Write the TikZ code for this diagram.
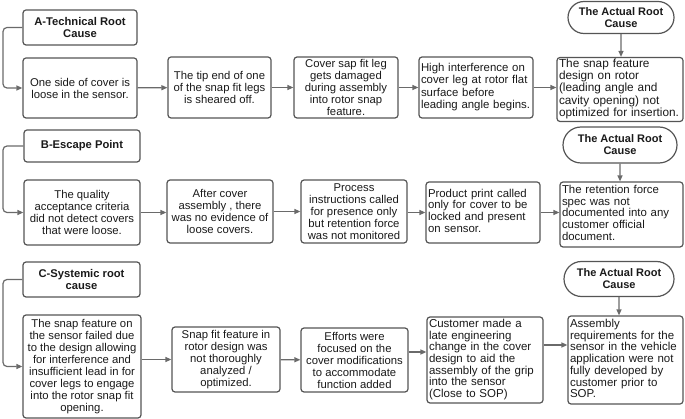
\documentclass[tikz,border=0pt]{standalone}
\usepackage{fontspec}
\setmainfont{Liberation Sans}
\usetikzlibrary{arrows.meta,shapes.misc}
\definecolor{bordc}{HTML}{555555}
\definecolor{linec}{HTML}{6A6A6A}
\definecolor{txtc}{HTML}{1A1A1A}
\newcommand\mylines[1]{\begin{tabular}{@{}l@{}}#1\end{tabular}}
\tikzset{
  box/.style={draw=bordc, line width=1.2pt, rounded corners=3pt, fill=white, inner sep=0pt,
    text=txtc, align=center, font=\fontsize{11.3}{12}\selectfont},
  lbox/.style={box, align=left, inner xsep=2pt},
  hdr/.style={box, font=\fontsize{11.2}{12.5}\selectfont\bfseries},
  stad/.style={draw=bordc, line width=1.2pt, rounded rectangle, fill=white, inner sep=0pt,
    text=txtc, align=center, font=\fontsize{11}{12}\selectfont\bfseries},
  arr/.style={draw=linec, line width=1.2pt, -{Triangle[length=6pt,width=5pt]}},
}
\begin{document}
\begin{tikzpicture}[x=1pt,y=-1pt]
\useasboundingbox (0,0) rectangle (685,419);
\coordinate (lx) at (3,0);
% ---------- Row A ----------
\node[hdr, minimum width=114pt, minimum height=35pt] (ha) at (80,27.5) {A-Technical Root\\Cause};
\node[box, minimum width=114pt, minimum height=60pt] (a1) at (80,88) {One side of cover is\\loose in the sensor.};
\node[box, minimum width=103pt, minimum height=61pt] (a2) at (219.5,87.5) {The tip end of one\\of the snap fit legs\\is sheared off.};
\node[box, minimum width=104pt, minimum height=61pt] (a3) at (346,87.5) {Cover sap fit leg\\gets damaged\\during assembly\\into rotor snap\\feature.};
\node[lbox, text width=110pt, minimum height=61pt, font=\fontsize{11.4}{12.6}\selectfont] (a4) at (476,87.5) {\mylines{High interference on\\cover leg at rotor flat\\surface before\\leading angle begins.}};
\node[lbox, text width=122pt, minimum height=64pt, font=\fontsize{11.8}{12}\selectfont] (a5) at (620,89.5) {\mylines{The snap feature\\design on rotor\\(leading angle and\\cavity opening) not\\optimized for insertion.}};
\node[stad, minimum width=106pt, minimum height=32pt] (sa) at (621,17.5) {The Actual Root\\Cause};
% ---------- Row B ----------
\node[hdr, minimum width=116pt, minimum height=32pt] (hb) at (82,146) {B-Escape Point};
\node[box, minimum width=116pt, minimum height=65pt] (b1) at (82,212.5) {The quality\\acceptance criteria\\did not detect covers\\that were loose.};
\node[box, minimum width=106pt, minimum height=63pt] (b2) at (220,211.5) {After cover\\assembly , there\\was no evidence of\\loose covers.};
\node[box, minimum width=106pt, minimum height=63pt] (b3) at (354,211.5) {Process\\instructions called\\for presence only\\but retention force\\was not monitored};
\node[lbox, text width=110pt, minimum height=61pt, font=\fontsize{11.4}{11.8}\selectfont] (b4) at (483,212.5) {\mylines{Product print called\\only for cover to be\\locked and present\\on sensor.}};
\node[lbox, text width=119pt, minimum height=65pt, font=\fontsize{11.4}{11.8}\selectfont] (b5) at (621.5,214.5) {\mylines{The retention force\\spec was not\\documented into any\\customer official\\document.}};
\node[stad, minimum width=114pt, minimum height=36pt] (sb) at (620,145) {The Actual Root\\Cause};
% ---------- Row C ----------
\node[hdr, minimum width=117pt, minimum height=35pt] (hc) at (81.5,279.5) {C-Systemic root\\cause};
\node[box, minimum width=118pt, minimum height=103pt] (c1) at (82,366.5) {The snap feature on\\the sensor failed due\\to the design allowing\\for interference and\\insufficient lead in for\\cover legs to engage\\into the rotor snap fit\\opening.};
\node[box, minimum width=108pt, minimum height=65pt] (c2) at (226,359.5) {Snap fit feature in\\rotor design was\\not thoroughly\\analyzed /\\optimized.};
\node[box, minimum width=107pt, minimum height=64pt] (c3) at (354.5,360) {Efforts were\\focused on the\\cover modifications\\to accommodate\\function added};
\node[lbox, text width=112pt, minimum height=86pt, font=\fontsize{11.5}{11.3}\selectfont] (c4) at (485,360) {\mylines{Customer made a\\late engineering\\change in the cover\\design to aid the\\assembly of the grip\\into the sensor\\(Close to SOP)}};
\node[lbox, text width=111pt, minimum height=88pt, font=\fontsize{11.5}{11.4}\selectfont] (c5) at (625.5,360) {\mylines{Assembly\\requirements for the\\sensor in the vehicle\\application were not\\fully developed by\\customer prior to\\SOP.}};
\node[stad, minimum width=110pt, minimum height=35pt] (sc) at (619,279) {The Actual Root\\Cause};
% ---------- connectors ----------
\coordinate (cyA) at (0,352);
\coordinate (cyB) at (0,345);
\draw[arr, rounded corners=4pt] (ha.west) -- (ha.west -| lx) |- (a1.west);
\draw[arr, rounded corners=4pt] (hb.west) -- (hb.west -| lx) |- (b1.west);
\draw[arr, rounded corners=4pt] (hc.west) -- (hc.west -| lx) |- (c1.west);
\draw[arr] (a1) -- (a2);
\draw[arr] (a2) -- (a3);
\draw[arr] (a3) -- (a4);
\draw[arr] (a4.east) -- (a4.east -| a5.west);
\draw[arr] (sa) -- (sa.south |- a5.north);
\draw[arr] (b1.east) -- (b1.east -| b2.west);
\draw[arr] (b2) -- (b3);
\draw[arr] (b3.east |- b4.west) -- (b4.west);
\draw[arr] (b4.east) -- (b4.east -| b5.west);
\draw[arr] (sb) -- (sb.south |- b5.north);
\draw[arr] (c1.east |- c2.west) -- (c2.west);
\draw[arr] (c2) -- (c3);
\draw[arr] (c3.east |- cyA) -- (c4.west |- cyA);
\draw[arr] (c4.east |- cyB) -- (c5.west |- cyB);
\draw[arr] (sc) -- (sc.south |- c5.north);
\end{tikzpicture}
\end{document}
